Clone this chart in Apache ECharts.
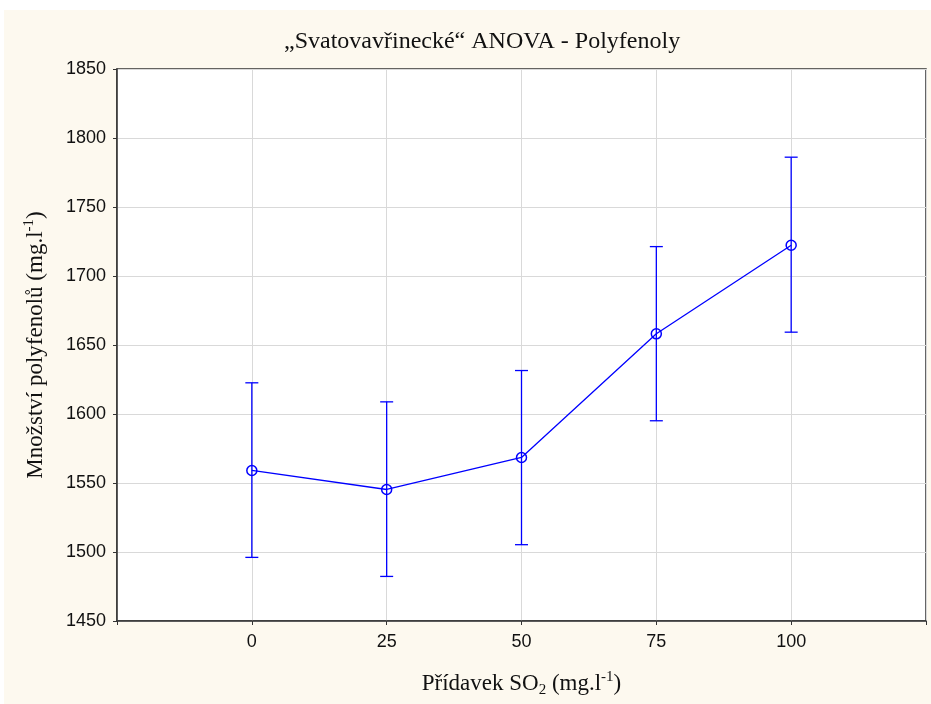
<!DOCTYPE html>
<html><head><meta charset="utf-8">
<script src="https://cdn.jsdelivr.net/npm/echarts@6/dist/echarts.min.js"></script>
<style>html,body{margin:0;padding:0;background:#fff}#c{width:931px;height:704px}</style>
</head><body><div id="c"></div>
<script>
var doses = [0, 25, 50, 75, 100];
var means = [1559.1, 1545.3, 1568.5, 1658.1, 1722.3];
var lower = [1496.1, 1482.3, 1505.3, 1595.1, 1659.3];
var upper = [1622.6, 1608.8, 1631.5, 1721.3, 1786.1];
var yTicks = [1450, 1500, 1550, 1600, 1650, 1700, 1750, 1800, 1850];

var blue = '#0000ff';
var lineData = doses.map(function(d,i){return [d, means[i]];});
var errData = doses.map(function(d,i){return [d, lower[i], upper[i]];});

var chart = echarts.init(document.getElementById('c'));
chart.setOption({
  backgroundColor: '#ffffff',
  animation: false,
  graphic: [{type:'rect', z:-10, silent:true, shape:{x:4,y:10,width:927,height:694}, style:{fill:'#fdf9ef'}}],
  title: {
    text: '\u201eSvatovav\u0159ineck\u00e9\u201c ANOVA - Polyfenoly',
    left: 279, top: 25,
    textStyle: {fontFamily:'Liberation Serif', fontSize: 24, fontWeight:'normal', color:'#111'}
  },
  grid: {left:117, top:69, right:5, bottom:83, show:true, backgroundColor:'#ffffff', borderColor:'#333', borderWidth:1.5},
  xAxis: {
    type:'value', min:-25, max:125, interval:25,
    name: '{a|P\u0159\u00eddavek SO}{sub|2}{a| (mg.l}{sup|-1}{a|)}',
    nameLocation:'middle', nameGap: 49,
    nameTextStyle: {rich:{
      a:{fontFamily:'Liberation Serif', fontSize:23, color:'#111', lineHeight:28, verticalAlign:'middle'},
      sub:{fontFamily:'Liberation Serif', fontSize:15, color:'#111', lineHeight:28, verticalAlign:'bottom'},
      sup:{fontFamily:'Liberation Serif', fontSize:15, color:'#111', lineHeight:28, verticalAlign:'top'}
    }},
    axisLine:{show:true, onZero:false, lineStyle:{color:'#333', width:1.5}},
    axisTick:{show:true, length:4, lineStyle:{color:'#333'}},
    splitLine:{show:true, lineStyle:{color:'#d9d9d9', width:1}},
    axisLabel:{margin:12, fontFamily:'Liberation Sans', fontSize:18, color:'#111',
      formatter:function(v){return doses.indexOf(v)>=0 ? String(v) : '';}}
  },
  yAxis: {
    type:'value', min:yTicks[0], max:yTicks[yTicks.length-1], interval:50,
    name: '{a|Mno\u017estv\u00ed polyfenol\u016f (mg.l}{sup|-1}{a|)}',
    nameLocation:'middle', nameGap: 67, nameRotate: 90,
    nameTextStyle: {rich:{
      a:{fontFamily:'Liberation Serif', fontSize:23, color:'#111', lineHeight:28, verticalAlign:'middle'},
      sup:{fontFamily:'Liberation Serif', fontSize:15, color:'#111', lineHeight:28, verticalAlign:'top'}
    }},
    axisLine:{show:true, onZero:false, lineStyle:{color:'#333', width:1.5}},
    axisTick:{show:true, length:4, lineStyle:{color:'#333'}},
    splitLine:{show:true, lineStyle:{color:'#d9d9d9', width:1}},
    axisLabel:{margin:11, fontFamily:'Liberation Sans', fontSize:18, color:'#111',
      formatter:function(v){return String(v);}}
  },
  series: [
    {type:'line', data: lineData, symbol:'none', lineStyle:{color:blue, width:1.3}, z:2},
    {type:'custom', data: errData, z:3,
      renderItem: function(params, api){
        var x = api.value(0);
        var lo = api.coord([x, api.value(1)]);
        var hi = api.coord([x, api.value(2)]);
        var w = 6.5;
        var st = {stroke: blue, lineWidth: 1.3, fill: 'none'};
        return {type:'group', children:[
          {type:'line', shape:{x1:lo[0], y1:lo[1], x2:hi[0], y2:hi[1]}, style:st},
          {type:'line', shape:{x1:lo[0]-w, y1:lo[1], x2:lo[0]+w, y2:lo[1]}, style:st},
          {type:'line', shape:{x1:hi[0]-w, y1:hi[1], x2:hi[0]+w, y2:hi[1]}, style:st}
        ]};
      }},
    {type:'custom', data: lineData, z:4,
      renderItem: function(params, api){
        var p = api.coord([api.value(0), api.value(1)]);
        return {type:'circle', shape:{cx:p[0], cy:p[1], r:5}, style:{stroke:blue, lineWidth:1.5, fill:'none'}};
      }}
  ]
});
</script></body></html>
